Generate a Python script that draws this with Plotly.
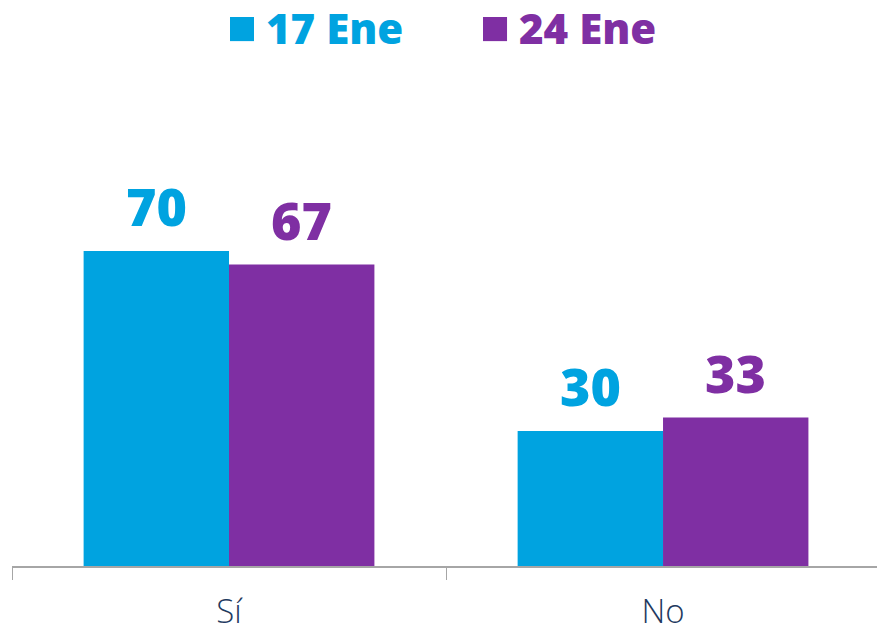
import plotly.graph_objects as go

categories = ["Sí", "No"]
series_names = ["17 Ene", "24 Ene"]
values_17 = [70, 30]
values_24 = [67, 33]
colors = ["#00A3E0", "#7F2FA3"]

all_values = [values_17, values_24]
bargap = 0.33
bar_w = (1 - bargap) / 2

fig = go.Figure()
for name, vals, col in zip(series_names, all_values, colors):
    fig.add_trace(go.Bar(x=categories, y=vals, name=name, marker_color=col,
                         marker_line_width=0, showlegend=False, hoverinfo="skip"))

annotations = []
for k, (vals, col) in enumerate(zip(all_values, colors)):
    for i, v in enumerate(vals):
        annotations.append(dict(
            x=i + (k - 0.5) * bar_w, y=v, xref="x", yref="y",
            text=str(v), showarrow=False, yanchor="bottom", yshift=8,
            font=dict(family="Open Sans", size=52, color=col, weight=800)))

# legend drawn as shapes + text
legend_x = [0.252, 0.5445]
shapes = []
for k, (name, col) in enumerate(zip(series_names, colors)):
    shapes.append(dict(type="rect", xref="paper", yref="paper",
                       x0=legend_x[k], x1=legend_x[k] + 0.0278,
                       y0=1.080, y1=1.1296, fillcolor=col, line_width=0))
    annotations.append(dict(x=legend_x[k] + 0.0395, y=1.107, xref="paper", yref="paper",
                            text=name, showarrow=False, xanchor="left", yanchor="middle",
                            font=dict(family="Open Sans", size=42, color=col, weight=800)))

fig.update_layout(
    width=877, height=630,
    margin=dict(l=12, r=0, t=80, b=64, autoexpand=False),
    paper_bgcolor="white", plot_bgcolor="white",
    barmode="group", bargap=bargap, bargroupgap=0,
    annotations=annotations, shapes=shapes,
    xaxis=dict(range=[-0.5, 1.493], showline=True, linecolor="#A6A6A6", linewidth=1.5,
               ticks="outside", tickson="boundaries", ticklen=12, tickcolor="#A6A6A6",
               tickfont=dict(family="Open Sans", size=33, color="#1F3A60", weight=300),
               ticklabelstandoff=16, showgrid=False, automargin=False),
    yaxis=dict(range=[0, 108], visible=False, showgrid=False, automargin=False),
)

fig.write_html("out.html", config={"displayModeBar": False},
               post_script="document.body.style.margin='0';document.body.style.overflow='hidden';")
